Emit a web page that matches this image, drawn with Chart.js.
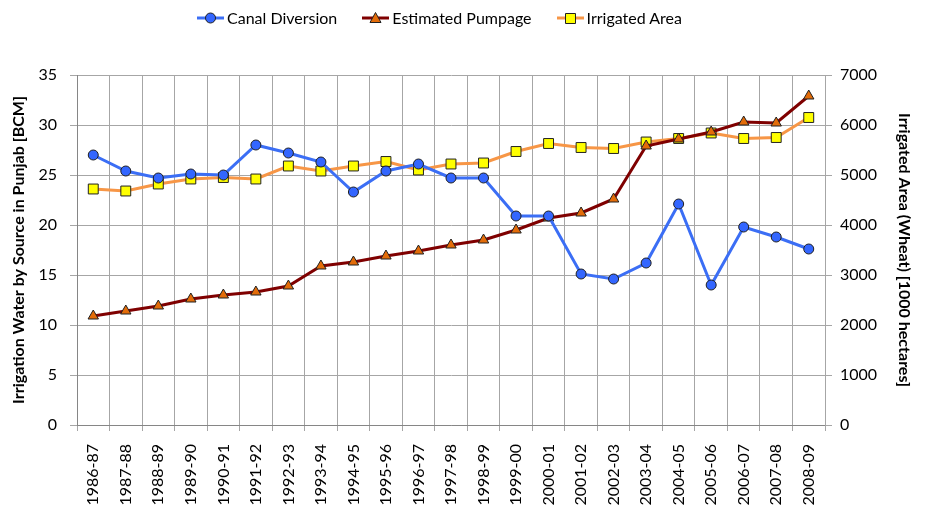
<!DOCTYPE html>
<html><head><meta charset="utf-8">
<script src="https://cdn.jsdelivr.net/npm/chart.js@4"></script>
<style>
html,body{margin:0;padding:0;background:#fff;}
#wrap{width:927px;height:508px;position:relative;}
#legend{position:absolute;top:8px;left:197px;display:flex;align-items:center;gap:25px;
  font-family:Lato,'Open Sans',sans-serif;font-size:16px;color:#000;line-height:20px;white-space:nowrap;}
#legend .item{display:flex;align-items:center;}
#legend canvas{display:block;margin-right:3px;}
</style>
</head><body><div id="wrap"><canvas id="c" width="927" height="508"></canvas><div id="legend"></div></div>
<script>
const categories = ["1986-87","1987-88","1988-89","1989-90","1990-91","1991-92","1992-93","1993-94","1994-95","1995-96","1996-97","1997-98","1998-99","1999-00","2000-01","2001-02","2002-03","2003-04","2004-05","2005-06","2006-07","2007-08","2008-09"];
const canalDiversion = [27.0,25.4,24.7,25.1,25.0,28.0,27.2,26.3,23.3,25.4,26.1,24.7,24.7,20.9,20.9,15.1,14.6,16.2,22.1,14.0,19.8,18.8,17.6];
const estimatedPumpage = [10.9,11.4,11.9,12.6,13.0,13.3,13.9,15.9,16.3,16.9,17.4,18.0,18.5,19.5,20.7,21.2,22.6,27.9,28.6,29.3,30.3,30.2,32.9];
const irrigatedArea = [4720,4680,4820,4920,4950,4920,5180,5080,5180,5270,5100,5220,5240,5470,5630,5550,5530,5660,5730,5840,5730,5750,6150];
const seriesNames = ["Canal Diversion","Estimated Pumpage","Irrigated Area"];
const leftAxisTitle = "Irrigation Water by Source in Punjab [BCM]";
const rightAxisTitle = "Irrigated Area (Wheat) [1000 hectares]";

const FONT = "Lato, 'Open Sans', sans-serif";

function legendIcon(lineColor, style, fill) {
  const cv = document.createElement('canvas');
  cv.width = 27; cv.height = 14;
  const g = cv.getContext('2d');
  g.strokeStyle = lineColor; g.lineWidth = 3;
  g.beginPath(); g.moveTo(0, 7); g.lineTo(27, 7); g.stroke();
  g.fillStyle = fill; g.strokeStyle = '#202020'; g.lineWidth = 1;
  g.beginPath();
  if (style === 'circle') { g.arc(13.5, 7, 5, 0, Math.PI * 2); }
  else if (style === 'rect') { g.rect(8.5, 2.5, 10, 10); }
  else { g.moveTo(13.5, 1.5); g.lineTo(19, 11.5); g.lineTo(8, 11.5); g.closePath(); }
  g.fill(); g.stroke();
  return cv;
}

const styles = [
  { line: '#3b6ef5', fill: '#3366ff', point: 'circle', radius: 5 },
  { line: '#7f0000', fill: '#e36c09', point: 'triangle', radius: 6 },
  { line: '#f79646', fill: '#ffff00', point: 'rect', radius: 7 }
];

const legend = document.getElementById('legend');
seriesNames.forEach((name, i) => {
  const it = document.createElement('div'); it.className = 'item';
  it.appendChild(legendIcon(styles[i].line, styles[i].point, styles[i].fill));
  const sp = document.createElement('span'); sp.textContent = name; it.appendChild(sp);
  legend.appendChild(it);
});

const seriesData = [canalDiversion, estimatedPumpage, irrigatedArea];
const axisIds = ['y', 'y', 'y1'];

const ctx = document.getElementById('c').getContext('2d');
new Chart(ctx, {
  type: 'line',
  data: {
    labels: categories,
    datasets: seriesNames.map((name, i) => ({
      label: name, data: seriesData[i], yAxisID: axisIds[i],
      borderColor: styles[i].line, borderWidth: 3, backgroundColor: styles[i].fill,
      pointStyle: styles[i].point, pointRadius: styles[i].radius,
      pointBorderColor: '#202020', pointBorderWidth: 1,
      pointBackgroundColor: styles[i].fill, tension: 0
    }))
  },
  options: {
    responsive: false,
    animation: false,
    devicePixelRatio: 1,
    layout: { padding: { top: 75, left: 0, right: 0, bottom: 0 } },
    plugins: {
      tooltip: { enabled: false },
      legend: { display: false }
    },
    scales: {
      x: {
        type: 'category',
        offset: true,
        grid: { offset: true, color: '#a6a6a6', lineWidth: 1, tickLength: 6, drawTicks: true },
        border: { color: '#868686' },
        ticks: { minRotation: 90, maxRotation: 90, autoSkip: false, color: '#000', padding: 13,
                 font: { family: FONT, size: 16 } },
        afterFit: (s) => { s.height = 83; }
      },
      y: {
        position: 'left', min: 0, max: 35,
        ticks: { stepSize: 5, color: '#000', padding: 13, font: { family: FONT, size: 16 } },
        grid: { color: '#a6a6a6', lineWidth: 1, tickLength: 7 },
        border: { color: '#868686' },
        title: { display: true, text: leftAxisTitle, color: '#000', padding: { top: 9, bottom: 0 },
                 font: { family: FONT, size: 16, weight: 'bold' } },
        afterFit: (s) => { s.width = 77; }
      },
      y1: {
        position: 'right', min: 0, max: 7000,
        ticks: { stepSize: 1000, color: '#000', padding: 8, font: { family: FONT, size: 16 },
                 callback: (v) => String(v) },
        grid: { drawOnChartArea: false, color: '#a6a6a6', tickLength: 7 },
        border: { color: '#a6a6a6' },
        title: { display: true, text: rightAxisTitle, color: '#000', padding: { top: 13, bottom: 0 },
                 font: { family: FONT, size: 16, weight: 'bold' } },
        afterFit: (s) => { s.width = 102; }
      }
    }
  }
});
</script>
</body></html>
